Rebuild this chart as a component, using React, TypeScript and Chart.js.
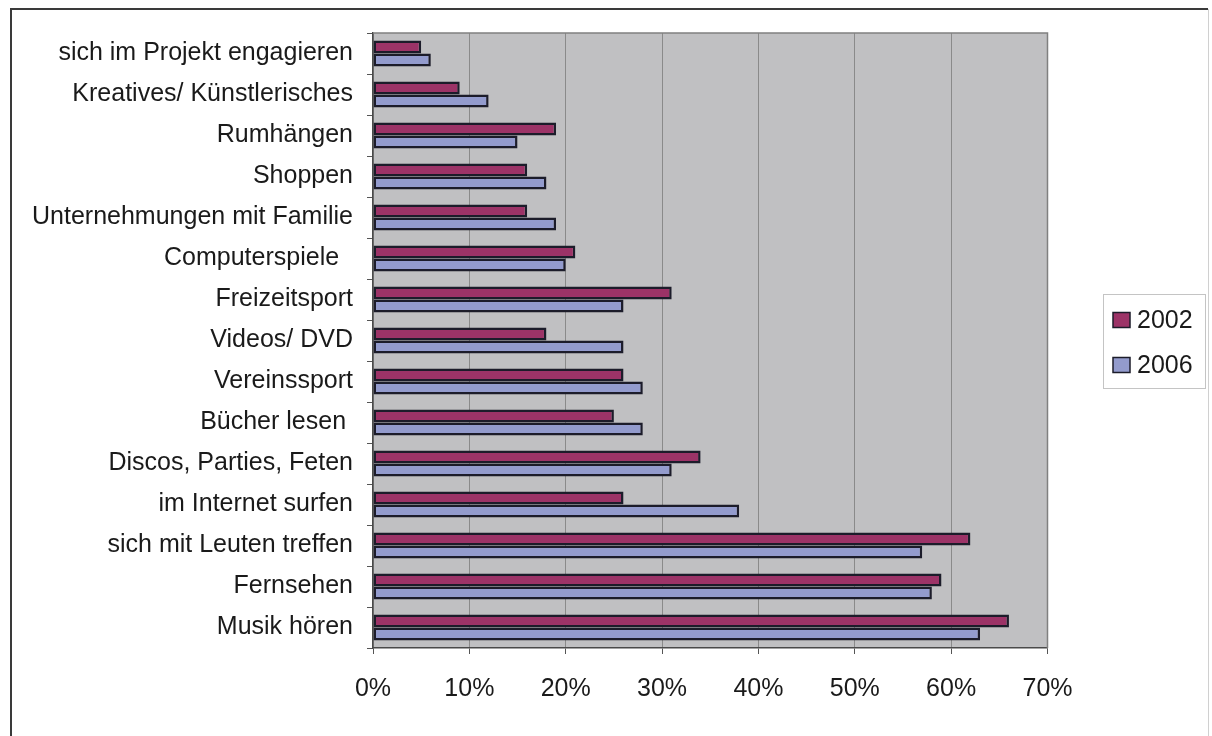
import React, { useEffect, useRef } from "react";
import { Chart, registerables } from "chart.js";

Chart.register(...registerables);

const categories = [
  "sich im Projekt engagieren",
  "Kreatives/ Künstlerisches",
  "Rumhängen",
  "Shoppen",
  "Unternehmungen mit Familie",
  "Computerspiele  ",
  "Freizeitsport",
  "Videos/ DVD",
  "Vereinssport",
  "Bücher lesen ",
  "Discos, Parties, Feten",
  "im Internet surfen",
  "sich mit Leuten treffen",
  "Fernsehen",
  "Musik hören",
];

const values2002 = [5, 9, 19, 16, 16, 21, 31, 18, 26, 25, 34, 26, 62, 59, 66];
const values2006 = [6, 12, 15, 18, 19, 20, 26, 26, 28, 28, 31, 38, 57, 58, 63];
const seriesNames = ["2002", "2006"];
const xTicksMax = 70;

const FONT = "'Liberation Sans', Arial, Helvetica, sans-serif";

const framePlugin = {
  id: "framePlugin",
  beforeDraw(chart: any) {
    const { ctx, chartArea } = chart;
    ctx.save();
    ctx.fillStyle = "#ffffff";
    ctx.fillRect(0, 0, chart.width, chart.height);
    ctx.fillStyle = "#c0c0c2";
    ctx.fillRect(chartArea.left, chartArea.top, chartArea.right - chartArea.left, chartArea.bottom - chartArea.top);
    ctx.restore();
  },
  afterDraw(chart: any) {
    const { ctx, chartArea } = chart;
    ctx.save();
    ctx.strokeStyle = "#808080";
    ctx.lineWidth = 1.5;
    ctx.beginPath();
    ctx.moveTo(chartArea.left, chartArea.top);
    ctx.lineTo(chartArea.right, chartArea.top);
    ctx.lineTo(chartArea.right, chartArea.bottom);
    ctx.stroke();
    ctx.strokeStyle = "#3a3a3a";
    ctx.lineWidth = 2;
    ctx.beginPath();
    ctx.moveTo(11, chart.height + 5);
    ctx.lineTo(11, 9);
    ctx.lineTo(1208, 9);
    ctx.stroke();
    ctx.strokeStyle = "#d0d0d0";
    ctx.lineWidth = 1;
    ctx.beginPath();
    ctx.moveTo(1208.5, 9);
    ctx.lineTo(1208.5, chart.height + 5);
    ctx.stroke();
    const lx = 1103, ly = 294, lw = 102, lh = 94;
    ctx.strokeStyle = "#c4c4c4";
    ctx.lineWidth = 1;
    ctx.strokeRect(lx + 0.5, ly + 0.5, lw, lh);
    const rows = [320, 365];
    chart.data.datasets.forEach((ds: any, i: number) => {
      const cy = rows[i];
      ctx.fillStyle = ds.backgroundColor;
      ctx.fillRect(1113, cy - 7.5, 17, 15);
      ctx.strokeStyle = "#1c1c2a";
      ctx.lineWidth = 1.5;
      ctx.strokeRect(1113, cy - 7.5, 17, 15);
      ctx.fillStyle = "#1a1a1a";
      ctx.font = `25px ${FONT}`;
      ctx.textAlign = "left";
      ctx.textBaseline = "middle";
      ctx.fillText(ds.label, 1137, cy + 1);
    });
    ctx.restore();
  },
};

export default function App() {
  const canvasRef = useRef<HTMLCanvasElement | null>(null);

  useEffect(() => {
    const canvas = canvasRef.current;
    if (!canvas) return;
    const chart = new Chart(canvas, {
      type: "bar",
      data: {
        labels: categories,
        datasets: [
          {
            label: seriesNames[0],
            data: values2002,
            backgroundColor: "#9c3367",
            borderColor: "#1c1c2a",
            borderWidth: 2.5,
            borderSkipped: false,
            categoryPercentage: 0.64,
            barPercentage: 1.0,
          },
          {
            label: seriesNames[1],
            data: values2006,
            backgroundColor: "#939bcd",
            borderColor: "#1c1c2a",
            borderWidth: 2.5,
            borderSkipped: false,
            categoryPercentage: 0.64,
            barPercentage: 1.0,
          },
        ],
      },
      options: {
        indexAxis: "y",
        responsive: false,
        animation: false,
        devicePixelRatio: 1,
        layout: { padding: { left: 0, right: 164.5, top: 33, bottom: 33 } },
        plugins: {
          legend: { display: false },
          tooltip: { enabled: false },
          title: { display: false },
        },
        scales: {
          x: {
            min: 0,
            max: xTicksMax,
            ticks: {
              stepSize: 10,
              callback: (v: any) => `${v}%`,
              color: "#1a1a1a",
              font: { family: FONT, size: 25 },
              padding: 20,
              maxRotation: 0,
            },
            grid: {
              color: "#8a8a8a",
              lineWidth: 1,
              tickLength: 6,
              tickColor: "#555555",
            },
            border: { display: true, color: "#4a4a4a", width: 1.5 },
            afterFit: (scale: any) => {
              scale.height = 55;
            },
          },
          y: {
            ticks: {
              color: "#1a1a1a",
              font: { family: FONT, size: 25 },
              padding: 14,
              autoSkip: false,
            },
            grid: {
              drawOnChartArea: false,
              drawTicks: true,
              tickLength: 6,
              tickColor: "#555555",
              offset: true,
            },
            border: { display: true, color: "#4a4a4a", width: 1.5 },
            afterFit: (scale: any) => {
              scale.width = 373;
            },
          },
        },
      },
      plugins: [framePlugin],
    });
    return () => chart.destroy();
  }, []);

  return (
    <div style={{ position: "fixed", left: 0, top: 0, width: 1212, height: 736, background: "#fff" }}>
      <canvas ref={canvasRef} width={1212} height={736} style={{ display: "block", width: 1212, height: 736 }} />
    </div>
  );
}
